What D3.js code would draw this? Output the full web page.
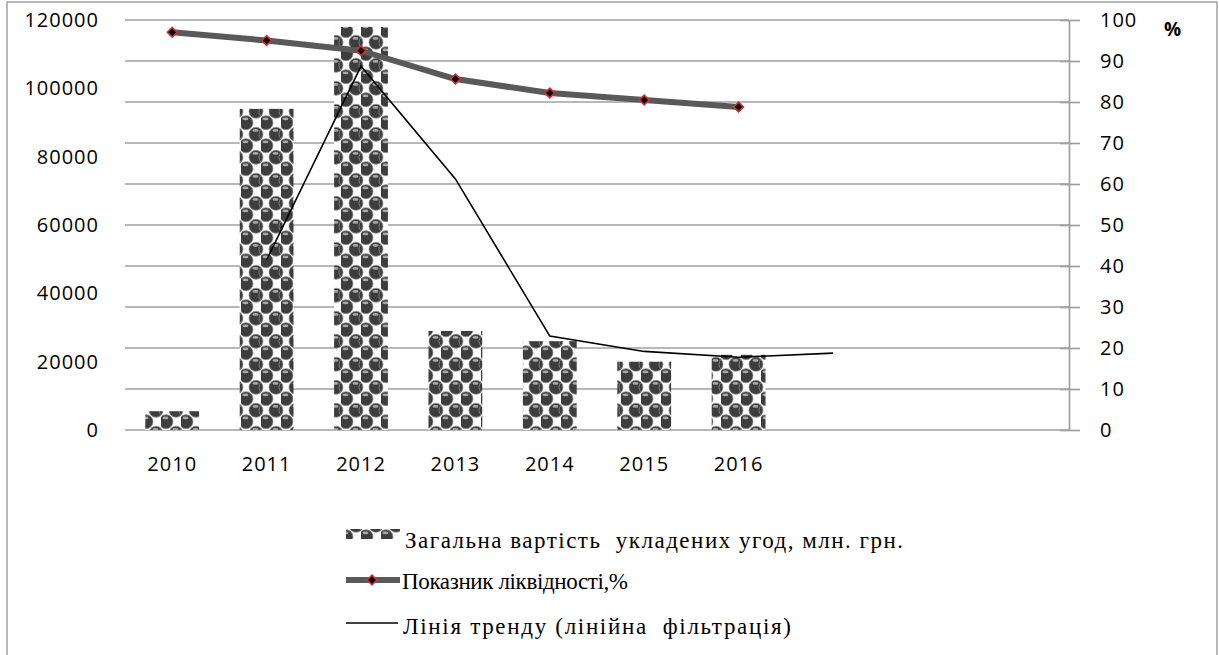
<!DOCTYPE html>
<html><head><meta charset="utf-8">
<script src="https://cdn.jsdelivr.net/npm/d3@7"></script>
<style>body{margin:0;background:#fff}svg{display:block}</style>
</head><body>
<svg id="c" width="1219" height="655"></svg>
<script>
const categories = ["2010","2011","2012","2013","2014","2015","2016","2017","2018","2019"];
const tickLabels = ["2010","2011","2012","2013","2014","2015","2016","","",""];
const dealValues = [5500, 94000, 118000, 29000, 26000, 20000, 22000];
const liquidity = [97, 95, 92.5, 85.6, 82.2, 80.5, 78.8];
const trend = [null, 49750, 106500, 73500, 27500, 23000, 21300, 22500];
const leftTicks = [0, 20000, 40000, 60000, 80000, 100000, 120000];
const rightTicks = [0,10,20,30,40,50,60,70,80,90,100];
const legendLabels = ["Загальна вартість  укладених угод, млн. грн.", "Показник ліквідності,%", "Лінія тренду (лінійна  фільтрація)"];

const svg = d3.select("#c");
const L = 125, R = 1069, T = 20, B = 430;

const x = d3.scaleBand().domain(categories).range([L, R]).paddingInner(0.43).paddingOuter(0.215);
const yL = d3.scaleLinear().domain([0, 120000]).range([B, T]);
const yR = d3.scaleLinear().domain([0, 100]).range([B, T]);
const cx = c => x(c) + x.bandwidth() / 2;

// pattern
const defs = svg.append("defs");
const pat = defs.append("pattern").attr("id","sph").attr("patternUnits","userSpaceOnUse")
  .attr("width",20).attr("height",23).attr("x",1).attr("y",2);
pat.append("rect").attr("width",20).attr("height",23).attr("fill","#fff");
[[5,5.75],[15,17.25],[25,17.25],[-5,17.25],[15,-5.75],[-5,-5.75],[25,-5.75],[5,28.75]].forEach(([a,b])=>{
  pat.append("circle").attr("cx",a).attr("cy",b).attr("r",7).attr("fill","#3d3d3d")
    .attr("stroke","#8a8a8a").attr("stroke-width",0.8);
  pat.append("ellipse").attr("cx",a-0.5).attr("cy",b-3.8).attr("rx",3).attr("ry",1.4).attr("fill","#a8a8a8");
});

// frame
svg.append("rect").attr("x",7).attr("y",2).attr("width",1210).attr("height",680)
  .attr("fill","none").attr("stroke","#a0a0a0").attr("stroke-width",1.5);

// gridlines
svg.append("g").selectAll("line").data(rightTicks).join("line")
  .attr("x1",L).attr("x2",R).attr("y1",d=>yR(d)).attr("y2",d=>yR(d))
  .attr("stroke","#a0a0a0").attr("stroke-width",1.7);

// right axis
const ra = svg.append("g").attr("transform",`translate(${R},0)`)
  .call(d3.axisRight(yR).tickValues(rightTicks).tickSize(11).tickPadding(20).tickSizeOuter(0));
ra.select(".domain").attr("stroke","#a0a0a0").attr("stroke-width",1.7);
ra.selectAll(".tick line").attr("stroke","#a0a0a0").attr("stroke-width",1.7).attr("x1",-9);
ra.selectAll("text").attr("font-family","Open Sans").attr("font-size",20).attr("letter-spacing",1).attr("fill","#000");

// left axis
const la = svg.append("g").attr("transform",`translate(${L},0)`)
  .call(d3.axisLeft(yL).tickValues(leftTicks).tickFormat(d3.format("d")).tickSize(0).tickPadding(26));
la.select(".domain").remove();
la.selectAll("text").attr("font-family","Open Sans").attr("font-size",20).attr("letter-spacing",1).attr("fill","#000");

// x axis labels
const xa = svg.append("g").attr("transform",`translate(0,${B})`)
  .call(d3.axisBottom(x).tickFormat((d,i)=>tickLabels[i]).tickSize(0).tickPadding(27));
xa.select(".domain").remove();
xa.selectAll("text").attr("font-family","Open Sans").attr("font-size",20).attr("letter-spacing",1).attr("fill","#000");

// % label
svg.append("text").attr("x",1164).attr("y",36).text("%")
  .attr("font-family","Open Sans").attr("font-weight","bold").attr("font-size",19);

// bars
svg.append("g").selectAll("rect").data(dealValues).join("rect")
  .attr("x",(d,i)=>x(categories[i])).attr("width",x.bandwidth())
  .attr("y",d=>yL(d)).attr("height",d=>B-yL(d)).attr("fill","url(#sph)");

// trend line
const tline = d3.line().defined(d=>d!=null).x((d,i)=>cx(categories[i])).y(d=>yL(d));
svg.append("path").attr("d",tline(trend)).attr("fill","none").attr("stroke","#000").attr("stroke-width",1.6);

// liquidity line
const lline = d3.line().x((d,i)=>cx(categories[i])).y(d=>yR(d));
svg.append("path").attr("d",lline(liquidity)).attr("fill","none").attr("stroke","#595959").attr("stroke-width",6).attr("stroke-linejoin","round");
const diamond = d3.symbol().type(d3.symbolDiamond2).size(60);
svg.append("g").selectAll("path").data(liquidity).join("path")
  .attr("transform",(d,i)=>`translate(${cx(categories[i])},${yR(d)})`)
  .attr("d",diamond).attr("fill","#000").attr("stroke","#d03030").attr("stroke-width",1.6);

// legend
const lg = svg.append("g");
lg.append("rect").attr("x",346).attr("y",529).attr("width",54).attr("height",10).attr("fill","url(#sph)");
lg.append("line").attr("x1",346).attr("x2",400).attr("y1",580).attr("y2",580).attr("stroke","#595959").attr("stroke-width",6);
lg.append("path").attr("transform","translate(372,580)").attr("d",diamond).attr("fill","#000").attr("stroke","#d03030").attr("stroke-width",1.6);
lg.append("line").attr("x1",346).attr("x2",398).attr("y1",623).attr("y2",623).attr("stroke","#000").attr("stroke-width",1.6);
const lys = [548, 589, 634], lxs = [405, 402, 403], lws = [498, 226, 388];
lg.selectAll("text").data(legendLabels).join("text")
  .attr("x",(d,i)=>lxs[i]).attr("y",(d,i)=>lys[i]).text(d=>d)
  .attr("textLength",(d,i)=>lws[i]).attr("lengthAdjust","spacing")
  .attr("font-family","'Liberation Serif', 'DejaVu Serif', 'Noto Serif', Tinos, 'Times New Roman', Times, serif")
  .attr("font-size",23).attr("fill","#000").style("white-space","pre");
</script>
</body></html>
